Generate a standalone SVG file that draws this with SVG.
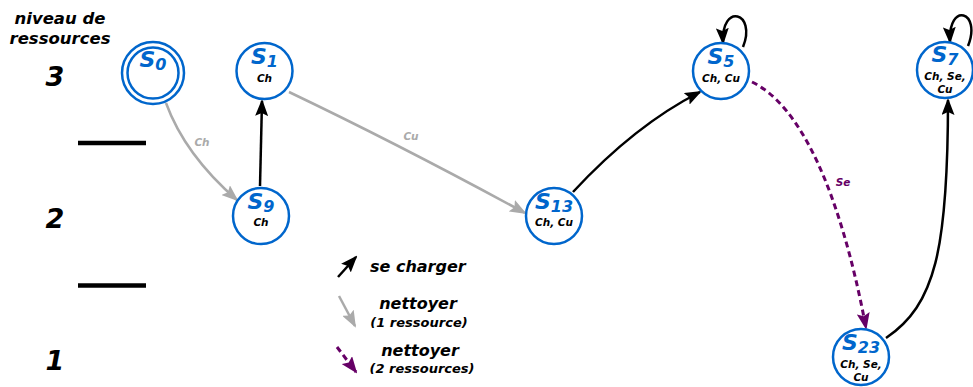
<svg xmlns="http://www.w3.org/2000/svg" width="973" height="387" viewBox="0 0 973 387">
<style>
text{font-family:"DejaVu Sans","Liberation Sans",sans-serif;font-weight:bold;font-style:italic}
.node circle{fill:#fff;stroke:#0066cc;stroke-width:2.5}
.sl{fill:#0066cc;font-size:22px}
.sub{font-size:16px}
.ds{fill:#000;font-size:10.5px}
.lvl{font-size:27px;fill:#000}
.e{fill:none;stroke-width:2.5}
.blk{stroke:#000;marker-end:url(#ab)}
.gry{stroke:#aaa;marker-end:url(#ag)}
.pur{stroke:#660066;stroke-width:3;stroke-dasharray:6 4;marker-end:url(#ap)}
.lbl{font-size:10.5px}
.hdr{font-size:16.5px;fill:#000}
.leg{font-size:16px;fill:#000}
.leg2{font-size:13px;fill:#000}
</style>
<defs>
<marker id="ab" markerUnits="userSpaceOnUse" markerWidth="17" markerHeight="13" viewBox="0 0 17 13" refX="15" refY="6.5" orient="auto"><path d="M0,0 L17,6.5 L0,13 L3,6.5 z" fill="#000"/></marker>
<marker id="ag" markerUnits="userSpaceOnUse" markerWidth="17" markerHeight="13" viewBox="0 0 17 13" refX="15" refY="6.5" orient="auto"><path d="M0,0 L17,6.5 L0,13 L3,6.5 z" fill="#aaa"/></marker>
<marker id="ap" markerUnits="userSpaceOnUse" markerWidth="17" markerHeight="13" viewBox="0 0 17 13" refX="15" refY="6.5" orient="auto"><path d="M0,0 L17,6.5 L0,13 L3,6.5 z" fill="#660066"/></marker>
</defs>

<g id="levels">
<text class="hdr" x="60" y="24" text-anchor="middle">niveau de</text>
<text class="hdr" x="60" y="44" text-anchor="middle">ressources</text>
<text class="lvl" x="55" y="86" text-anchor="middle">3</text>
<text class="lvl" x="55" y="228" text-anchor="middle">2</text>
<text class="lvl" x="55" y="370" text-anchor="middle">1</text>
<line x1="78" y1="143" x2="146" y2="143" stroke="#000" stroke-width="4.5"/>
<line x1="78" y1="285.5" x2="146" y2="285.5" stroke="#000" stroke-width="4.5"/>
</g>

<g id="connectors">
<path class="e gry" d="M166,103 Q185,155 237,200"/>
<text class="lbl" x="202" y="146" text-anchor="middle" fill="#aaa">Ch</text>
<path class="e blk" d="M260,186 L262,101"/>
<path class="e gry" d="M289,92 Q400,145 525,213"/>
<text class="lbl" x="411" y="140" text-anchor="middle" fill="#aaa">Cu</text>
<path class="e blk" d="M573,192 Q635,125 700,92"/>
<path class="e blk" d="M743,47 C757,12 721,2 723,43"/>
<path class="e pur" d="M752,82 C800,105 840,190 866,328"/>
<text class="lbl" x="843" y="186" text-anchor="middle" fill="#660066">Se</text>
<path class="e blk" d="M886,338 C935,305 948,250 948,100"/>
<path class="e blk" d="M968,46 C982,11 948,1 950,42"/>
</g>

<g id="S0" class="node">
<circle cx="153" cy="73" r="31"/>
<circle cx="153" cy="73" r="25.5"/>
<text class="sl" x="153" y="67" text-anchor="middle">S<tspan class="sub" dy="3">0</tspan></text>
</g>
<g id="S1" class="node">
<circle cx="264.5" cy="71" r="28"/>
<text class="sl" x="264.5" y="64" text-anchor="middle">S<tspan class="sub" dy="3">1</tspan></text>
<text class="ds" x="264.5" y="82" text-anchor="middle">Ch</text>
</g>
<g id="S9" class="node">
<circle cx="261" cy="216" r="28"/>
<text class="sl" x="261" y="209" text-anchor="middle">S<tspan class="sub" dy="3">9</tspan></text>
<text class="ds" x="261" y="226" text-anchor="middle">Ch</text>
</g>
<g id="S13" class="node">
<circle cx="554" cy="216" r="28"/>
<text class="sl" x="554" y="209" text-anchor="middle">S<tspan class="sub" dy="3">13</tspan></text>
<text class="ds" x="554" y="226" text-anchor="middle">Ch, Cu</text>
</g>
<g id="S5" class="node">
<circle cx="721" cy="71" r="28"/>
<text class="sl" x="721" y="64" text-anchor="middle">S<tspan class="sub" dy="3">5</tspan></text>
<text class="ds" x="721" y="82" text-anchor="middle">Ch, Cu</text>
</g>
<g id="S7" class="node">
<circle cx="945" cy="70" r="28"/>
<text class="sl" x="945" y="62" text-anchor="middle">S<tspan class="sub" dy="3">7</tspan></text>
<text class="ds" x="945" y="80" text-anchor="middle">Ch, Se,</text>
<text class="ds" x="945" y="93" text-anchor="middle">Cu</text>
</g>
<g id="S23" class="node">
<circle cx="861" cy="357" r="28"/>
<text class="sl" x="861" y="350" text-anchor="middle">S<tspan class="sub" dy="3">23</tspan></text>
<text class="ds" x="861" y="368" text-anchor="middle">Ch, Se,</text>
<text class="ds" x="861" y="381" text-anchor="middle">Cu</text>
</g>

<g id="legend">
<path class="e blk" d="M338,277 L356,257"/>
<text class="leg" x="370" y="272">se charger</text>
<path class="e gry" d="M339,296 L355,326"/>
<text class="leg" x="418" y="309" text-anchor="middle">nettoyer</text>
<text class="leg2" x="419" y="327" text-anchor="middle">(1 ressource)</text>
<path class="e pur" d="M337,347 L356,372"/>
<text class="leg" x="420" y="356" text-anchor="middle">nettoyer</text>
<text class="leg2" x="422" y="373" text-anchor="middle">(2 ressources)</text>
</g>
</svg>
